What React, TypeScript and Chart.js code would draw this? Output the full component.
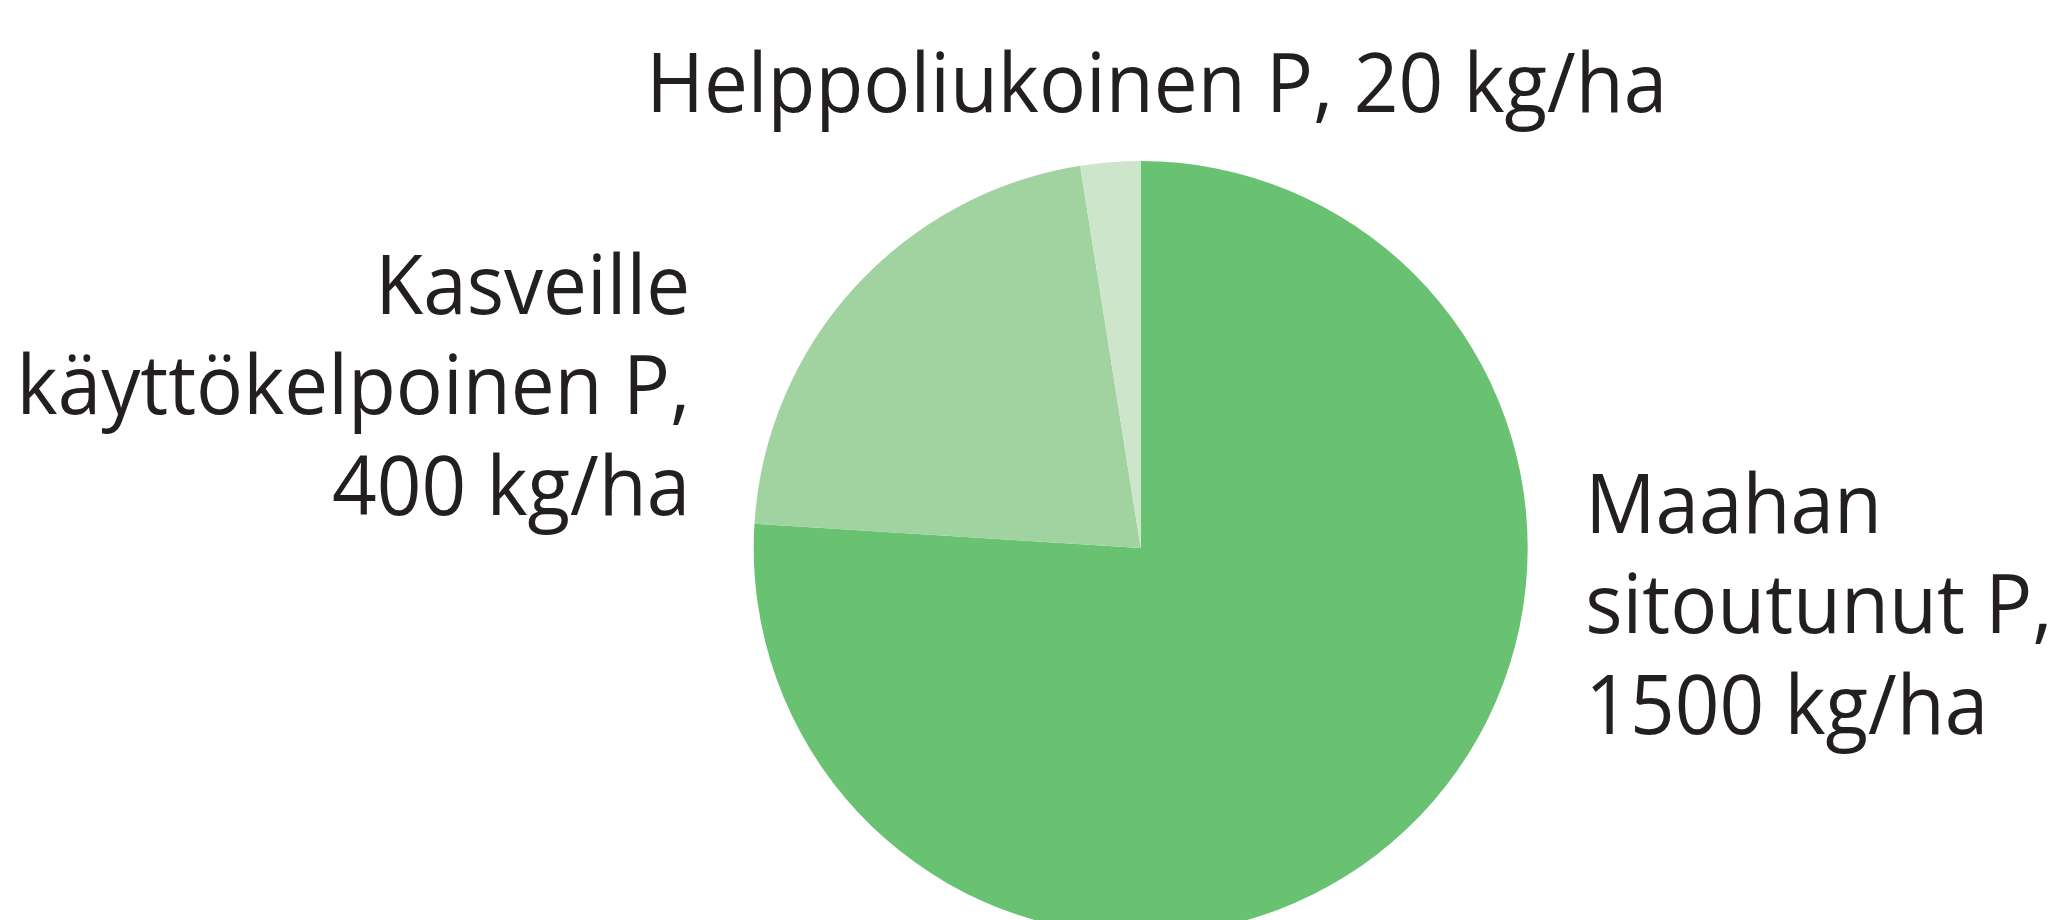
import React, { useEffect, useRef } from "react";
import { Chart, registerables } from "chart.js";

Chart.register(...registerables);

// Slices, clockwise from 12 o'clock
const categories = ["Maahan sitoutunut P", "Kasveille käyttökelpoinen P", "Helppoliukoinen P"];
// Shares as drawn in the picture (angles)
const sliceShares = [76, 21.5, 2.5];
// Values printed in the labels (kg/ha)
const labelValues = [1500, 400, 20];
const labelLines: string[][] = [
  ["Maahan", "sitoutunut P,", `${labelValues[0]} kg/ha`],
  ["Kasveille", "käyttökelpoinen P,", `${labelValues[1]} kg/ha`],
  [`Helppoliukoinen P, ${labelValues[2]} kg/ha`],
];
const sliceColors = ["#69c172", "#a0d3a0", "#cde6cb"];

const FONT_SIZE = 82;
const FONT = `${FONT_SIZE}px "Open Sans", "Noto Sans", sans-serif`;
const TEXT_COLOR = "#231f20";
const LINE_H = 100.4;

const labelPlugin = {
  id: "pieLabels",
  afterDraw(chart: any) {
    const meta = chart.getDatasetMeta(0);
    if (!meta || !meta.data.length) return;
    const arc = meta.data[0];
    const cx = arc.x;
    const cy = arc.y;
    const ctx = chart.ctx as CanvasRenderingContext2D;
    ctx.save();
    ctx.font = FONT;
    ctx.fillStyle = TEXT_COLOR;
    ctx.textBaseline = "alphabetic";
    // the reference typeface is narrower; condense horizontally
    const ref = ctx.measureText(labelLines[2][0]).width;
    const sx = 1021 / ref;

    const drawLine = (text: string, x: number, y: number, align: CanvasTextAlign) => {
      ctx.save();
      ctx.translate(x, y);
      ctx.scale(sx, 1);
      ctx.textAlign = align;
      ctx.fillText(text, 0, 0);
      ctx.restore();
    };

    // Maahan (right side)
    labelLines[0].forEach((t, i) => drawLine(t, cx + 444.5, cy - 15 + i * LINE_H, "left"));
    // Kasveille (left side)
    labelLines[1].forEach((t, i) => drawLine(t, cx - 450.5, cy - 234 + i * LINE_H, "right"));
    // Helppoliukoinen (top)
    labelLines[2].forEach((t, i) => drawLine(t, cx + 16, cy - 436 + i * LINE_H, "center"));
    ctx.restore();
  },
};

export default function App() {
  const ref = useRef<HTMLCanvasElement | null>(null);
  useEffect(() => {
    if (!ref.current) return;
    const chart = new Chart(ref.current, {
      type: "pie",
      data: {
        labels: categories,
        datasets: [
          {
            data: sliceShares,
            backgroundColor: sliceColors,
            borderWidth: 0,
          },
        ],
      },
      options: {
        responsive: false,
        animation: false,
        rotation: 0,
        layout: {
          padding: { left: 753.7, right: 522.3, top: 161, bottom: 65 },
        },
        plugins: {
          legend: { display: false },
          tooltip: { enabled: false },
        },
      },
      plugins: [labelPlugin],
    });
    return () => chart.destroy();
  }, []);
  return (
    <div style={{ position: "fixed", left: 0, top: 0, width: 2050, height: 1000, background: "#fff" }}>
      <canvas ref={ref} width={2050} height={1000} style={{ display: "block", width: 2050, height: 1000 }} />
    </div>
  );
}
